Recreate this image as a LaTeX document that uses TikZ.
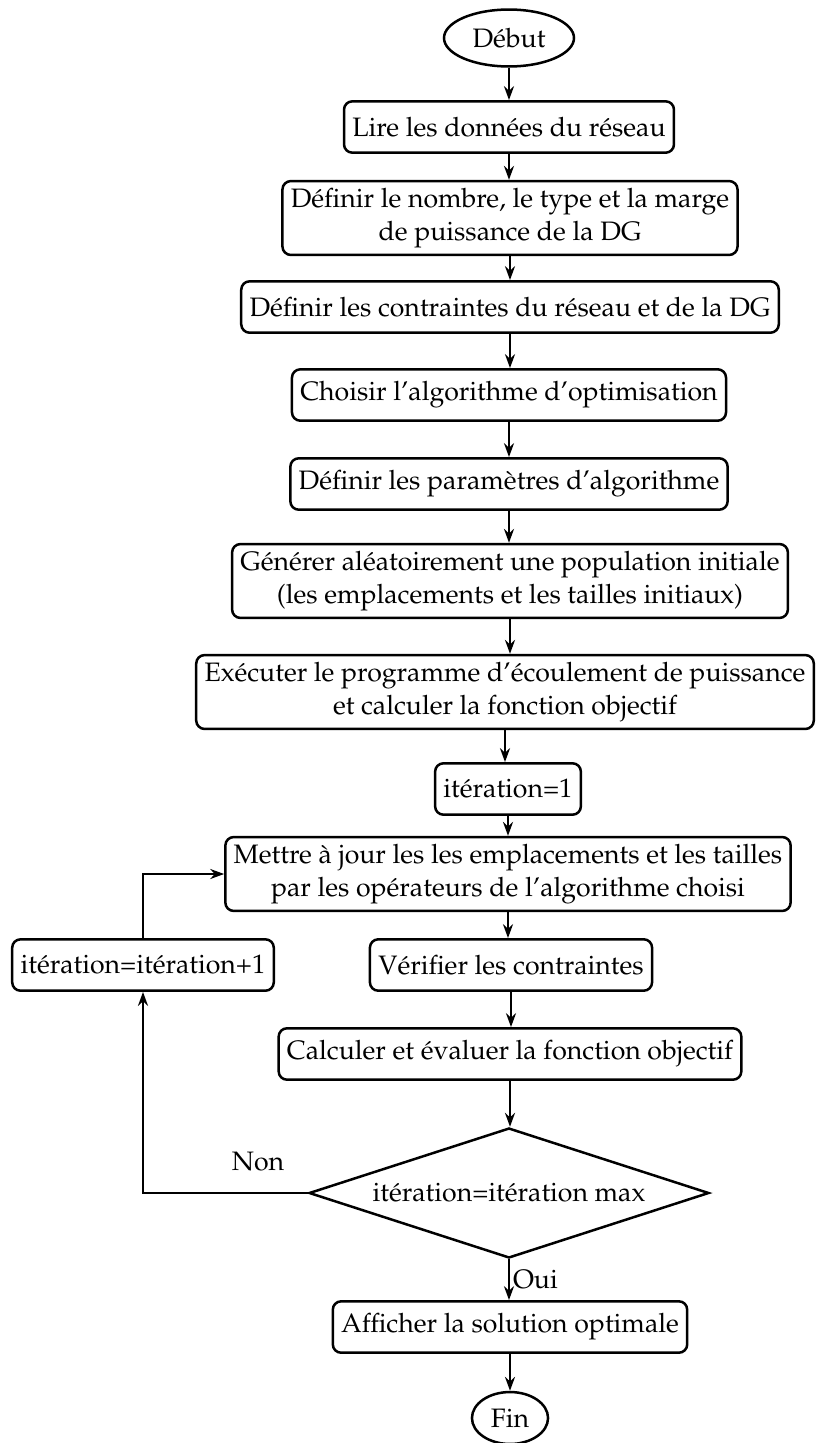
\documentclass[tikz,border=0pt]{standalone}
\usepackage[T1]{fontenc}
\usepackage{mathpazo}
\usetikzlibrary{shapes.geometric,arrows.meta}
\begin{document}
\begin{tikzpicture}[x=0.36pt,y=-0.36pt, line width=0.9pt,
  every node/.style={font=\fontsize{9.6}{12}\selectfont},
  box/.style={draw, rounded corners=3pt, align=center, inner xsep=3pt, inner ysep=2pt, minimum height=18.5pt},
  boxtwo/.style={box, minimum height=26.6pt},
  term/.style={draw, ellipse, inner sep=1pt},
  arr/.style={-{Stealth[length=5pt,width=3.6pt]}}]
\useasboundingbox (0,0) rectangle (816,1443);
\node[term, minimum width=46.8pt, minimum height=20.5pt] (debut) at (509,38) {Début};
\node[box] (n1) at (509,127) {Lire les données du réseau};
\node[boxtwo] (n2) at (510,218) {Définir le nombre, le type et la marge\\de puissance de la DG};
\node[box] (n3) at (510,307) {Définir les contraintes du réseau et de la DG};
\node[box] (n4) at (509,395) {Choisir l'algorithme d'optimisation};
\node[box] (n5) at (509,484) {Définir les paramètres d'algorithme};
\node[boxtwo] (n6) at (510,581) {Générer aléatoirement une population initiale\\(les emplacements et les tailles initiaux)};
\node[boxtwo] (n7) at (505,692) {Exécuter le programme d'écoulement de puissance\\et calculer la fonction objectif};
\node[box] (n8) at (508,789) {itération=1};
\node[boxtwo] (n9) at (508,874) {Mettre à jour les les emplacements et les tailles\\par les opérateurs de l'algorithme choisi};
\node[box] (n10) at (143,965) {itération=itération+1};
\node[box] (n11) at (511,965) {Vérifier les contraintes};
\node[box] (n12) at (510,1054) {Calculer et évaluer la fonction objectif};
\node[draw, diamond, aspect=3.08, inner sep=0pt, minimum width=144pt, minimum height=46.8pt] (d) at (509,1193) {itération=itération max};
\node[box] (n13) at (510,1327) {Afficher la solution optimale};
\node[term, minimum width=27.4pt, minimum height=18.7pt] (fin) at (510,1418) {Fin};
\node (non) at (258,1162) {Non};

\draw[arr] (debut.south) -- (debut.south |- n1.north);
\draw[arr] (n1.south) -- (n1.south |- n2.north);
\draw[arr] (n2.south) -- (n2.south |- n3.north);
\draw[arr] (n3.south) -- (n3.south |- n4.north);
\draw[arr] (n4.south) -- (n4.south |- n5.north);
\draw[arr] (n5.south) -- (n5.south |- n6.north);
\draw[arr] (n6.south) -- (n6.south |- n7.north);
\draw[arr] (n7.south) -- (n7.south |- n8.north);
\draw[arr] (n8.south) -- (n8.south |- n9.north);
\draw[arr] (n9.south) -- (n9.south |- n11.north);
\draw[arr] (n11.south) -- (n11.south |- n12.north);
\draw[arr] (n12.south) -- (n12.south |- d.north);
\draw[arr] (d.south) -- node[right, inner sep=1pt] {Oui} (d.south |- n13.north);
\draw[arr] (n13.south) -- (n13.south |- fin.north);
\draw[arr] (d.west) -| (n10.south);
\draw[arr] (n10.north) |- (n9.west);
\end{tikzpicture}
\end{document}
